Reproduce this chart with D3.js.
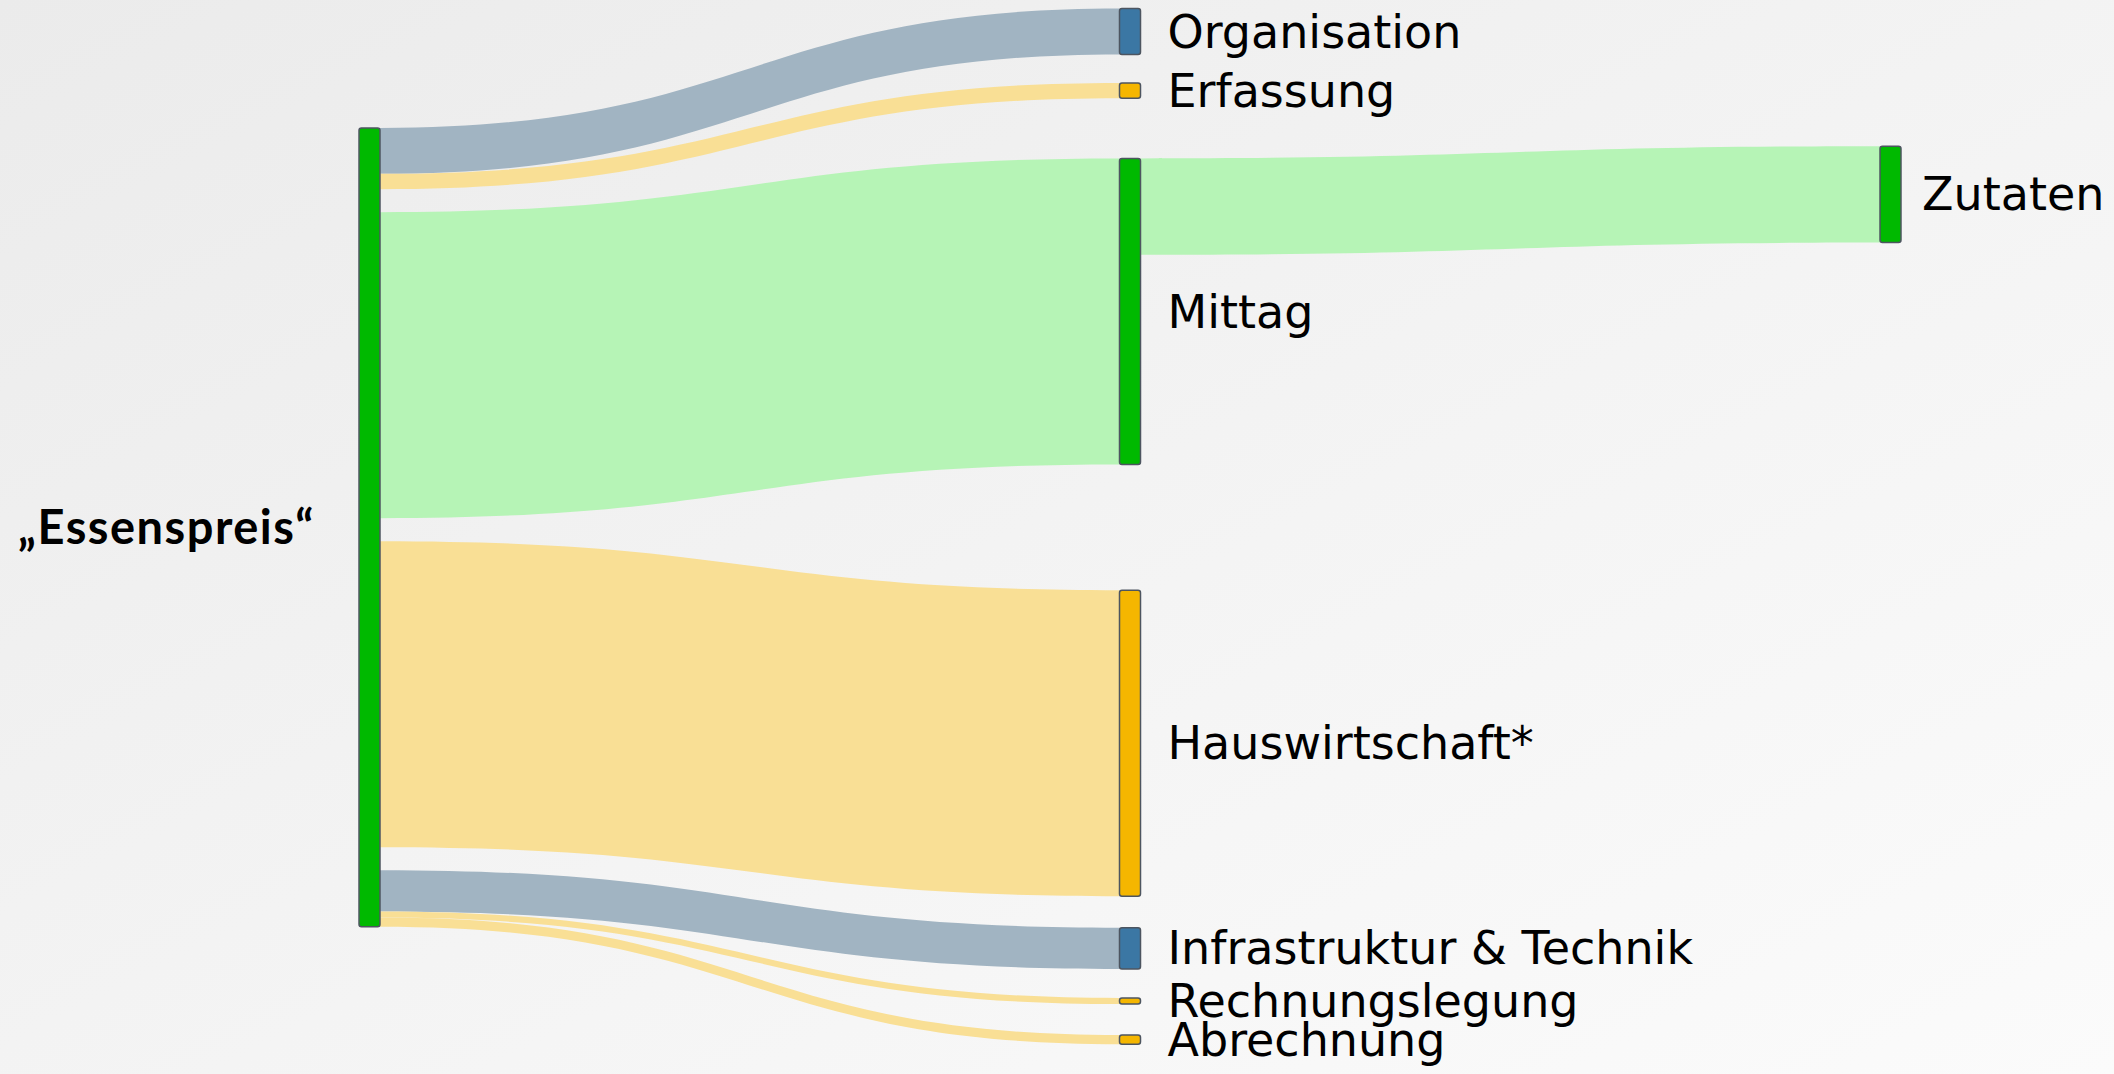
<!DOCTYPE html>
<html>
<head>
<meta charset="utf-8">
<script src="https://cdn.jsdelivr.net/npm/d3@7"></script>
<style>
  body { margin: 0; overflow: hidden; }
  text { font-family: "Century Gothic", "DejaVu Sans", sans-serif; fill: #000; }
  text.root { font-family: "Century Gothic", Lato, sans-serif; font-weight: bold; letter-spacing: 1.5px; }
</style>
</head>
<body>
<div id="chart"></div>
<script>
// --------------------------------------
// Data
// --------------------------------------

const nodeNames = ["„Essenspreis“", "Organisation", "Erfassung", "Mittag", "Hauswirtschaft*",
  "Infrastruktur & Technik", "Rechnungslegung", "Abrechnung", "Zutaten"];
const nodeColumn = [0, 1, 1, 1, 1, 1, 1, 1, 2];
const nodeKind = ["food", "admin", "service", "food", "service", "admin", "service", "service", "food"];

const linkSource = [0, 0, 0, 0, 0, 0, 0, 3];
const linkTarget = [1, 2, 3, 4, 5, 6, 7, 8];
const linkValue = [0.30, 0.10, 2.00, 2.00, 0.27, 0.04, 0.06, 0.63];
// bundles of flows leaving the first node (a gap sits between bundles)
const linkBundle = [0, 0, 1, 2, 3, 3, 3, 0];

// --------------------------------------
// Layout / styles
// --------------------------------------

const width = 2114, height = 1074;
// node centres as a share of the page height (fixed arrangement)
const nodeY = [0.491, 0.0293, 0.0843, 0.290, 0.692, 0.883, 0.932, 0.968, 0.181];
const nodeWidth = 21;
const bundleGap = 23;

const nodeFill = { food: "#00b900", admin: "#3b77a4", service: "#f5b600" };
const linkFill = { food: "#b6f4b6", admin: "#a1b4c2", service: "#f9df95" };

// --------------------------------------
// Canvas
// --------------------------------------

const svg = d3.select("#chart")
  .append("svg")
    .attr("width", width)
    .attr("height", height)
    .attr("viewBox", [0, 0, width, height]);

const grad = svg.append("defs")
  .append("linearGradient")
    .attr("id", "bg")
    .attr("x1", 0).attr("y1", 0).attr("x2", 1).attr("y2", 1);
grad.append("stop").attr("offset", "0%").attr("stop-color", "#ebebeb");
grad.append("stop").attr("offset", "55%").attr("stop-color", "#f4f4f4");
grad.append("stop").attr("offset", "100%").attr("stop-color", "#fbfbfb");

svg.append("rect")
    .attr("width", width)
    .attr("height", height)
    .attr("fill", "url(#bg)");

// --------------------------------------
// Scales
// --------------------------------------

const x = d3.scaleLinear([0, 2], [359, 1880]);
const y = d3.scaleLinear([0, 1], [0, height]);
const k = d3.scaleLinear([0, 2], [0, 306]);

// --------------------------------------
// Sankey layout
// --------------------------------------

const links = linkValue.map((v, i) => ({
  source: linkSource[i], target: linkTarget[i], value: v, bundle: linkBundle[i]
}));

const nodes = nodeNames.map((name, i) => {
  const outs = links.filter(l => l.source === i);
  const ins = links.filter(l => l.target === i);
  const value = Math.max(d3.sum(outs, l => l.value), d3.sum(ins, l => l.value));
  const gaps = i === 0 ? (new Set(outs.map(l => l.bundle)).size - 1) * bundleGap : 0;
  const h = k(value) + gaps;
  const x0 = x(nodeColumn[i]);
  const y0 = y(nodeY[i]) - h / 2;
  return { name, kind: nodeKind[i], column: nodeColumn[i], x0, x1: x0 + nodeWidth, y0, y1: y0 + h, outs, ins };
});

nodes.forEach((n, i) => {
  let yo = n.y0, prev = null;
  n.outs.forEach(l => {
    if (i === 0 && prev !== null && l.bundle !== prev) yo += bundleGap;
    l.sy0 = yo; yo += k(l.value); l.sy1 = yo;
    prev = l.bundle;
  });
  let yi = n.y0;
  n.ins.forEach(l => { l.ty0 = yi; yi += k(l.value); l.ty1 = yi; });
});

const linkPath = l => {
  const x0 = nodes[l.source].x1, x1 = nodes[l.target].x0, xm = (x0 + x1) / 2;
  return `M${x0},${l.sy0}C${xm},${l.sy0} ${xm},${l.ty0} ${x1},${l.ty0}` +
    `L${x1},${l.ty1}C${xm},${l.ty1} ${xm},${l.sy1} ${x0},${l.sy1}Z`;
};

// --------------------------------------
// Links
// --------------------------------------

svg.append("g")
  .selectAll("path")
  .data(links)
  .join("path")
    .attr("d", linkPath)
    .attr("fill", l => linkFill[nodes[l.target].kind]);

// --------------------------------------
// Nodes
// --------------------------------------

svg.append("g")
  .selectAll("rect")
  .data(nodes)
  .join("rect")
    .attr("x", d => d.x0)
    .attr("y", d => d.y0)
    .attr("width", nodeWidth)
    .attr("height", d => d.y1 - d.y0)
    .attr("rx", 2.5)
    .attr("fill", d => nodeFill[d.kind])
    .attr("stroke", "#4d5560")
    .attr("stroke-width", 1.5);

// --------------------------------------
// Labels
// --------------------------------------

svg.append("g")
  .selectAll("text")
  .data(nodes)
  .join("text")
    .attr("class", d => d.column === 0 ? "root" : null)
    .attr("x", d => d.column === 0 ? d.x0 - 44 : d.x1 + (d.column === 2 ? 21 : 27))
    .attr("y", d => (d.y0 + d.y1) / 2)
    .attr("dy", "0.35em")
    .attr("text-anchor", d => d.column === 0 ? "end" : "start")
    .attr("font-size", d => d.column === 0 ? 47 : 46)
    .text(d => d.name);
</script>
</body>
</html>
